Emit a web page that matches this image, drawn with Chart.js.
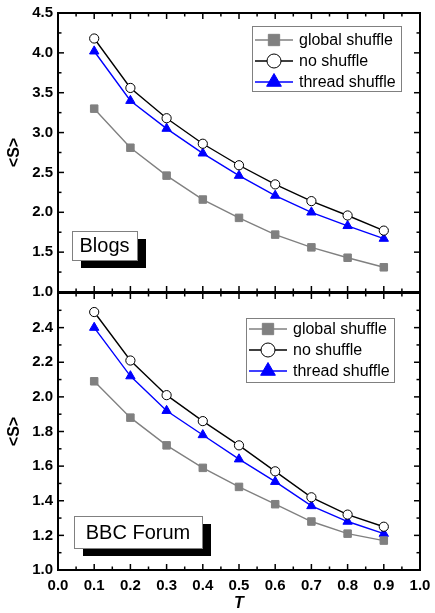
<!DOCTYPE html>
<html lang="en">

<head>
  <meta charset="UTF-8">
  <title>Average S vs T</title>
  <script src="https://cdn.jsdelivr.net/npm/chart.js"></script>
  <style>
    body { margin: 0; background: #fff; }
    #wrap { position: relative; width: 435px; height: 613px; }
    #topChart { position: absolute; left: 0; top: 0; }
    #bottomChart { position: absolute; left: 0; top: 291px; }
  </style>
</head>

<body>
  <div id="wrap">
    <canvas id="bottomChart" width="435" height="322"></canvas>
    <canvas id="topChart" width="435" height="305"></canvas>
  </div>

  <script>
    // T values on the x axis
    const T = [0.1, 0.2, 0.3, 0.4, 0.5, 0.6, 0.7, 0.8, 0.9];

    // Blogs panel
    const blogsGlobal = [3.30, 2.81, 2.46, 2.16, 1.93, 1.72, 1.56, 1.43, 1.31];
    const blogsNone = [4.18, 3.56, 3.18, 2.86, 2.59, 2.35, 2.14, 1.96, 1.77];
    const blogsThread = [4.02, 3.40, 3.05, 2.74, 2.46, 2.21, 2.00, 1.83, 1.67];

    // BBC Forum panel
    const bbcGlobal = [2.09, 1.88, 1.72, 1.59, 1.48, 1.38, 1.28, 1.21, 1.17];
    const bbcNone = [2.49, 2.21, 2.01, 1.86, 1.72, 1.57, 1.42, 1.32, 1.25];
    const bbcThread = [2.40, 2.12, 1.92, 1.78, 1.64, 1.51, 1.37, 1.28, 1.21];

    const seriesNames = ['global shuffle', 'no shuffle', 'thread shuffle'];

    const FONT = "'Liberation Sans', Arial, sans-serif";

    const styles = [
      { color: '#808080', fill: '#808080', pointStyle: 'rect', radius: 5.3, legendRadius: 8 },
      { color: '#000000', fill: '#ffffff', pointStyle: 'circle', radius: 4.6, legendRadius: 7 },
      { color: '#0000ff', fill: '#0000ff', pointStyle: 'triangle', radius: 5.4, legendRadius: 8.5 }
    ];

    function makeDatasets(lists) {
      return lists.map((vals, i) => ({
        label: seriesNames[i],
        data: vals.map((v, j) => ({ x: T[j], y: v })),
        borderColor: styles[i].color,
        backgroundColor: styles[i].fill,
        borderWidth: 1.4,
        pointStyle: styles[i].pointStyle,
        pointRadius: styles[i].radius,
        pointBorderColor: styles[i].color,
        pointBackgroundColor: styles[i].fill,
        pointBorderWidth: 1,
        fill: false,
        tension: 0
      }));
    }

    // frame + inward tick marks, legend box and panel name box
    const decorPlugin = {
      id: 'decor',
      afterDatasetsDraw(chart, args, opts) {
        const { ctx, chartArea: a, scales: { x, y } } = chart;
        ctx.save();
        ctx.strokeStyle = '#000';
        ctx.lineWidth = 1.5;
        const line = (x1, y1, x2, y2) => { ctx.beginPath(); ctx.moveTo(x1, y1); ctx.lineTo(x2, y2); ctx.stroke(); };

        // x ticks: major 0.1, minor 0.05
        for (let k = 0; k <= 20; k++) {
          const px = x.getPixelForValue(k * 0.05);
          const L = k % 2 === 0 ? 6 : 3.5;
          line(px, a.top, px, a.top + L);
          line(px, a.bottom, px, a.bottom - L);
        }
        // y ticks
        const n = Math.round((opts.yMax - opts.yMin) / opts.minor);
        for (let k = 0; k <= n; k++) {
          const py = y.getPixelForValue(opts.yMin + k * opts.minor);
          const L = k % 2 === 0 ? 6 : 3.5;
          line(a.left, py, a.left + L, py);
          line(a.right, py, a.right - L, py);
        }
        // frame
        ctx.lineWidth = 2;
        ctx.strokeRect(a.left, a.top, a.right - a.left, a.bottom - a.top);

        // legend
        const lg = opts.legend;
        ctx.fillStyle = '#fff';
        ctx.fillRect(lg.x, lg.y, lg.w, lg.h);
        ctx.strokeStyle = '#808080';
        ctx.lineWidth = 1;
        ctx.strokeRect(lg.x + 0.5, lg.y + 0.5, lg.w, lg.h);
        ctx.font = '16px ' + FONT;
        ctx.textBaseline = 'middle';
        seriesNames.forEach((name, i) => {
          const ry = lg.y + lg.row0 + i * lg.rowGap;
          const s = styles[i];
          ctx.strokeStyle = s.color;
          ctx.lineWidth = 1.5;
          line(lg.x + 3, ry, lg.x + 41, ry);
          ctx.fillStyle = s.fill;
          ctx.strokeStyle = s.color;
          ctx.lineWidth = 1;
          Chart.helpers.drawPoint(ctx, { pointStyle: s.pointStyle, radius: s.legendRadius, rotation: 0, borderWidth: 1 }, lg.x + 22, ry);
          ctx.fillStyle = '#000';
          ctx.fillText(name, lg.x + 47, ry + 1);
        });

        // panel name box with shadow
        const nb = opts.nameBox;
        ctx.fillStyle = '#000';
        ctx.fillRect(nb.x + 9, nb.y + 8, nb.w, nb.h);
        ctx.fillStyle = '#fff';
        ctx.fillRect(nb.x, nb.y, nb.w, nb.h);
        ctx.strokeStyle = '#808080';
        ctx.lineWidth = 1;
        ctx.strokeRect(nb.x + 0.5, nb.y + 0.5, nb.w, nb.h);
        ctx.fillStyle = '#000';
        ctx.font = '20px ' + FONT;
        ctx.textAlign = 'center';
        ctx.fillText(nb.text, nb.x + nb.w / 2, nb.y + nb.h / 2 + 1);
        ctx.restore();
      }
    };

    function makeChart(id, lists, yMin, yMax, step, minor, showX, pad, legend, nameBox) {
      return new Chart(document.getElementById(id), {
        type: 'line',
        data: { datasets: makeDatasets(lists) },
        options: {
          responsive: false,
          animation: false,
          devicePixelRatio: 1,
          layout: { padding: pad, autoPadding: false },
          plugins: {
            legend: { display: false },
            tooltip: { enabled: false },
            decor: { yMin, yMax, minor, legend, nameBox }
          },
          scales: {
            x: {
              type: 'linear', min: 0, max: 1,
              grid: { display: false, drawTicks: false },
              border: { display: false },
              ticks: {
                display: showX, stepSize: 0.1, padding: 7, color: '#000',
                font: { family: FONT, size: 15, weight: 'bold' },
                callback: v => v.toFixed(1)
              },
              title: {
                display: showX, text: 'T', color: '#000', padding: { top: 0, bottom: 0 },
                font: { family: FONT, size: 16, weight: 'bold', style: 'italic' }
              },
              afterFit: s => {
                s.height = showX ? 43 : 0;
                s.paddingLeft = 0; s.paddingRight = 0;
              }
            },
            y: {
              type: 'linear', min: yMin, max: yMax,
              grid: { display: false, drawTicks: false },
              border: { display: false },
              ticks: {
                stepSize: step, padding: 5, color: '#000',
                font: { family: FONT, size: 15, weight: 'bold' },
                // bottom panel hides its top label (shared edge)
                callback: v => (showX && Math.abs(v - yMax) < 1e-9) ? '' : v.toFixed(1)
              },
              title: {
                display: true, text: '<S>', color: '#000', padding: { top: 5, bottom: 0 },
                font: { family: FONT, size: 16, weight: 'bold' }
              },
              afterFit: s => {
                s.width = 58;
                s.paddingTop = 0; s.paddingBottom = 0;
              }
            }
          }
        },
        plugins: [decorPlugin]
      });
    }

    makeChart('topChart', [blogsGlobal, blogsNone, blogsThread], 1.0, 4.5, 0.5, 0.25, false,
      { top: 13, right: 15, bottom: 13, left: 0 },
      { x: 252, y: 26, w: 149, h: 65, row0: 14, rowGap: 21 },
      { x: 72, y: 231, w: 65, h: 29, text: 'Blogs' });

    makeChart('bottomChart', [bbcGlobal, bbcNone, bbcThread], 1.0, 2.6, 0.2, 0.1, true,
      { top: 2, right: 15, bottom: 0, left: 0 },
      { x: 246, y: 27, w: 148, h: 64, row0: 11, rowGap: 21 },
      { x: 74, y: 225, w: 128, h: 32, text: 'BBC Forum' });
  </script>
</body>

</html>
